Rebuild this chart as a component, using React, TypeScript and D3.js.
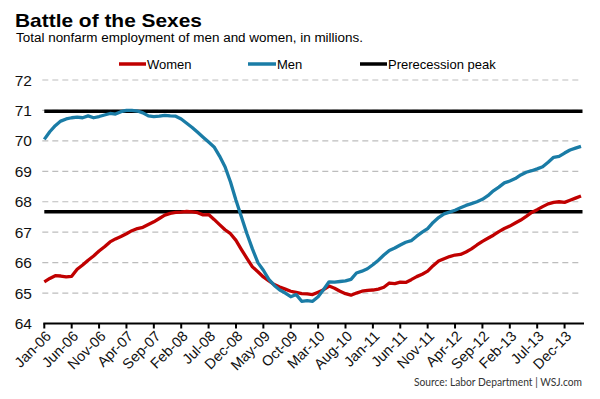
import React from 'react';
import * as d3 from 'd3';

// monthly values, Jan-06 .. Mar-14 (millions)
const women = [
  65.37, 65.48, 65.57, 65.56, 65.53, 65.55, 65.78, 65.92, 66.08, 66.22,
  66.38, 66.52, 66.68, 66.78, 66.86, 66.95, 67.05, 67.12, 67.16, 67.25,
  67.34, 67.45, 67.56, 67.62, 67.65, 67.66, 67.68, 67.67, 67.64, 67.57,
  67.58, 67.42, 67.25, 67.08, 66.95, 66.73, 66.43, 66.14, 65.86, 65.7,
  65.53, 65.4, 65.28, 65.2, 65.13, 65.06, 65.02, 64.98, 64.97, 64.95,
  65.03, 65.11, 65.23, 65.16, 65.06, 64.98, 64.93, 65.0, 65.06, 65.09,
  65.1, 65.13, 65.19, 65.33, 65.31, 65.36, 65.35, 65.44, 65.54, 65.62,
  65.72, 65.9, 66.05, 66.13, 66.2, 66.25, 66.27, 66.35, 66.45, 66.58,
  66.7, 66.8, 66.9, 67.02, 67.12, 67.2, 67.3, 67.4, 67.52, 67.65,
  67.74, 67.84, 67.93, 67.98, 68.0, 67.98, 68.05, 68.12, 68.19,
];

const men = [
  70.05, 70.3, 70.5, 70.65, 70.72, 70.76, 70.78, 70.76, 70.82, 70.76,
  70.8, 70.85, 70.9, 70.88, 70.96, 71.0, 71.0, 70.98, 70.92, 70.82,
  70.8, 70.81, 70.84, 70.82, 70.81, 70.72, 70.58, 70.44, 70.28, 70.12,
  69.96, 69.8, 69.5, 69.15, 68.65, 68.05, 67.5, 66.95, 66.45, 66.0,
  65.75, 65.45, 65.25, 65.1, 65.0, 64.88, 64.95, 64.73, 64.75, 64.73,
  64.88, 65.12, 65.37, 65.36, 65.38, 65.4, 65.45, 65.66, 65.72, 65.8,
  65.93, 66.08, 66.25, 66.4, 66.48, 66.58, 66.67, 66.72, 66.87, 67.0,
  67.12, 67.32, 67.48, 67.6, 67.66, 67.72, 67.8, 67.88, 67.94, 68.0,
  68.08, 68.2, 68.36, 68.48, 68.62, 68.68, 68.76, 68.88, 68.97, 69.02,
  69.08, 69.15, 69.3, 69.46, 69.49, 69.6, 69.7, 69.76, 69.82,
];

const peaks = [70.97, 67.67];

const yTicks = [64, 65, 66, 67, 68, 69, 70, 71, 72];
const xTickLabels = [
  'Jan-06', 'Jun-06', 'Nov-06', 'Apr-07', 'Sep-07', 'Feb-08', 'Jul-08',
  'Dec-08', 'May-09', 'Oct-09', 'Mar-10', 'Aug-10', 'Jan-11', 'Jun-11',
  'Nov-11', 'Apr-12', 'Sep-12', 'Feb-13', 'Jul-13', 'Dec-13',
];

const RED = '#c00000';
const BLUE = '#1a7ca6';
const FONT = '"Liberation Sans", Arial, sans-serif';

const App: React.FC = () => {
  const W = 600;
  const H = 399;

  const x = d3.scaleLinear().domain([0, women.length - 1]).range([44.3, 581]);
  const y = d3.scaleLinear().domain([64, 72]).range([323.5, 80]);

  const line = d3.line<number>()
    .x((_, i) => x(i))
    .y(d => y(d));

  const x0 = x(0);
  const x1 = x(women.length - 1);

  return (
    <svg width={W} height={H} style={{ position: 'absolute', left: 0, top: 0, background: '#fff' }}>
      <text x={15} y={26.5} fontFamily={FONT} fontWeight="bold" fontSize={18.5}
        textLength={187} lengthAdjust="spacingAndGlyphs">Battle of the Sexes</text>
      <text x={16} y={42} fontFamily={FONT} fontSize={12.5}
        textLength={347} lengthAdjust="spacingAndGlyphs">
        Total nonfarm employment of men and women, in millions.
      </text>

      {/* legend */}
      <g fontFamily={FONT} fontSize={13}>
        <line x1={119} x2={146} y1={64} y2={64} stroke={RED} strokeWidth={3.5} />
        <text x={147} y={68.5}>Women</text>
        <line x1={248} x2={276} y1={64} y2={64} stroke={BLUE} strokeWidth={3.5} />
        <text x={277} y={68.5}>Men</text>
        <line x1={360} x2={387} y1={64} y2={64} stroke="#000" strokeWidth={3.5} />
        <text x={388} y={68.5}>Prerecession peak</text>
      </g>

      {/* gridlines */}
      {yTicks.filter(t => t > 64).map(t => (
        <line key={t} x1={x0 - 2} x2={x1 + 1} y1={y(t)} y2={y(t)}
          stroke="#bdbdbd" strokeWidth={1.2} strokeDasharray="6,4" />
      ))}

      {/* y labels */}
      {yTicks.map(t => (
        <text key={t} x={32} y={y(t)} dy="0.36em" textAnchor="end"
          fontFamily={FONT} fontSize={15.5} fill="#111">{t}</text>
      ))}

      {/* peak lines */}
      {peaks.map(p => (
        <line key={p} x1={x0} x2={x1 + 1.5} y1={y(p)} y2={y(p)} stroke="#000" strokeWidth={3.5} />
      ))}

      <path d={line(women) ?? ''} fill="none" stroke={RED} strokeWidth={3.3} strokeLinejoin="round" />
      <path d={line(men) ?? ''} fill="none" stroke={BLUE} strokeWidth={3.3} strokeLinejoin="round" />

      {/* x axis */}
      <line x1={x0 - 1} x2={x1 + 3} y1={y(64)} y2={y(64)} stroke="#000" strokeWidth={2} />
      {xTickLabels.map((lab, i) => {
        const tx = x(i * 5);
        return (
          <g key={lab} transform={`translate(${tx},${y(64)})`}>
            <line y1={0} y2={5} stroke="#000" strokeWidth={2} />
            <text transform="translate(4,10) rotate(-45)" textAnchor="end" dy="0.35em"
              fontFamily={FONT} fontSize={14.5} fill="#111">{lab}</text>
          </g>
        );
      })}

      <text x={582} y={386} textAnchor="end" fontFamily='Lato, "Open Sans", sans-serif' fontSize={11}
        fill="#333" textLength={168} lengthAdjust="spacingAndGlyphs">
        Source: Labor Department  |  WSJ.com
      </text>
    </svg>
  );
};

export default App;
